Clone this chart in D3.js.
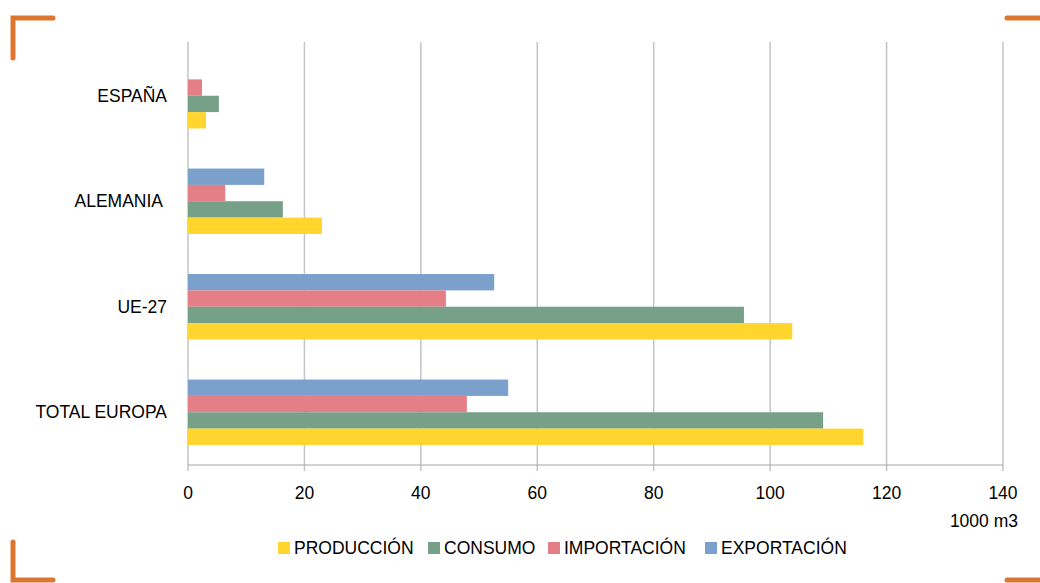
<!DOCTYPE html>
<html>
<head>
<meta charset="utf-8">
<script src="https://cdn.jsdelivr.net/npm/d3@7"></script>
<style>
  body { margin: 0; background: #fff; }
  text { font-family: "Liberation Sans", Arial, sans-serif; fill: #000; }
</style>
</head>
<body>
<svg id="chart" width="1040" height="583"></svg>
<script>
// data (1000 m3)
var categories = ["ESPAÑA", "ALEMANIA", "UE-27", "TOTAL EUROPA"];
var series = ["EXPORTACIÓN", "IMPORTACIÓN", "CONSUMO", "PRODUCCIÓN"];
var legendOrder = ["PRODUCCIÓN", "CONSUMO", "IMPORTACIÓN", "EXPORTACIÓN"];
var produccion = [3.1, 23, 103.8, 116];
var consumo = [5.3, 16.3, 95.5, 109.1];
var importacion = [2.4, 6.4, 44.3, 47.9];
var exportacion = [0, 13.1, 52.6, 55];
var xTicks = [0, 20, 40, 60, 80, 100, 120, 140];

var values = {
  "PRODUCCIÓN": produccion,
  "CONSUMO": consumo,
  "IMPORTACIÓN": importacion,
  "EXPORTACIÓN": exportacion
};
var color = d3.scaleOrdinal()
  .domain(legendOrder)
  .range(["#FFD52E", "#76A088", "#E57F87", "#7AA0CB"]);

var svg = d3.select("#chart");

var plotLeft = 188, plotRight = 1003, plotTop = 43, plotBottom = 465;
var fontSize = "17.5px";

var x = d3.scaleLinear().domain([0, 140]).range([plotLeft, plotRight]);
var y = d3.scaleBand().domain(categories).range([plotTop, plotBottom]).paddingInner(0.38).paddingOuter(0.19);
var ySub = d3.scaleBand().domain(series).range([0, y.bandwidth()]);

// gridlines
svg.append("g")
  .selectAll("line")
  .data(xTicks)
  .enter()
  .append("line")
    .attr("x1", function(d){ return x(d) })
    .attr("x2", function(d){ return x(d) })
    .attr("y1", 42)
    .attr("y2", plotBottom + 6)
    .attr("stroke", "#c4c4c4")
    .attr("stroke-width", 1.5);

// bars
var rows = [];
categories.forEach(function(c, i){
  series.forEach(function(s){
    rows.push({cat: c, key: s, value: values[s][i]});
  });
});

svg.append("g")
  .selectAll("rect")
  .data(rows)
  .enter()
  .append("rect")
    .attr("x", x(0))
    .attr("y", function(d){ return y(d.cat) + ySub(d.key) })
    .attr("width", function(d){ return x(d.value) - x(0) })
    .attr("height", ySub.bandwidth())
    .attr("fill", function(d){ return color(d.key) });

// baseline
svg.append("line")
  .attr("x1", plotLeft).attr("x2", plotRight)
  .attr("y1", plotBottom).attr("y2", plotBottom)
  .attr("stroke", "#a6a6a6")
  .attr("stroke-width", 1);

// x tick labels
svg.append("g")
  .selectAll("text")
  .data(xTicks)
  .enter()
  .append("text")
    .attr("x", function(d){ return x(d) })
    .attr("y", 499)
    .attr("text-anchor", "middle")
    .style("font-size", fontSize)
    .text(function(d){ return d });

svg.append("text")
  .attr("x", 1018)
  .attr("y", 527)
  .attr("text-anchor", "end")
  .style("font-size", fontSize)
  .text("1000 m3");

// category labels
svg.append("g")
  .selectAll("text")
  .data(categories)
  .enter()
  .append("text")
    .attr("x", function(d){ return d === "ALEMANIA" ? 163 : 167 })
    .attr("y", function(d){ return y(d) + y.bandwidth() / 2 })
    .attr("dy", "0.35em")
    .attr("text-anchor", "end")
    .style("font-size", fontSize)
    .text(function(d){ return d });

// legend
var legendX = [278, 428, 548, 705];
var lg = svg.append("g")
  .selectAll("g")
  .data(legendOrder)
  .enter()
  .append("g")
    .attr("transform", function(d, i){ return "translate(" + legendX[i] + ",548)" });
lg.append("rect")
  .attr("x", 0).attr("y", -6)
  .attr("width", 12).attr("height", 12)
  .attr("fill", function(d){ return color(d) });
lg.append("text")
  .attr("x", 16)
  .attr("dy", "0.35em")
  .style("font-size", fontSize)
  .text(function(d){ return d });

// orange corner brackets
var orange = "#DD7630";
var corners = [
  "M13,58 L13,18 L53,18",
  "M1007,18 L1040,18",
  "M13,542 L13,580 L53,580",
  "M1007,580 L1040,580"
];
svg.append("g")
  .selectAll("path")
  .data(corners)
  .enter()
  .append("path")
    .attr("d", function(d){ return d })
    .attr("fill", "none")
    .attr("stroke", orange)
    .attr("stroke-width", 5)
    .attr("stroke-linecap", "round");
</script>
</body>
</html>
